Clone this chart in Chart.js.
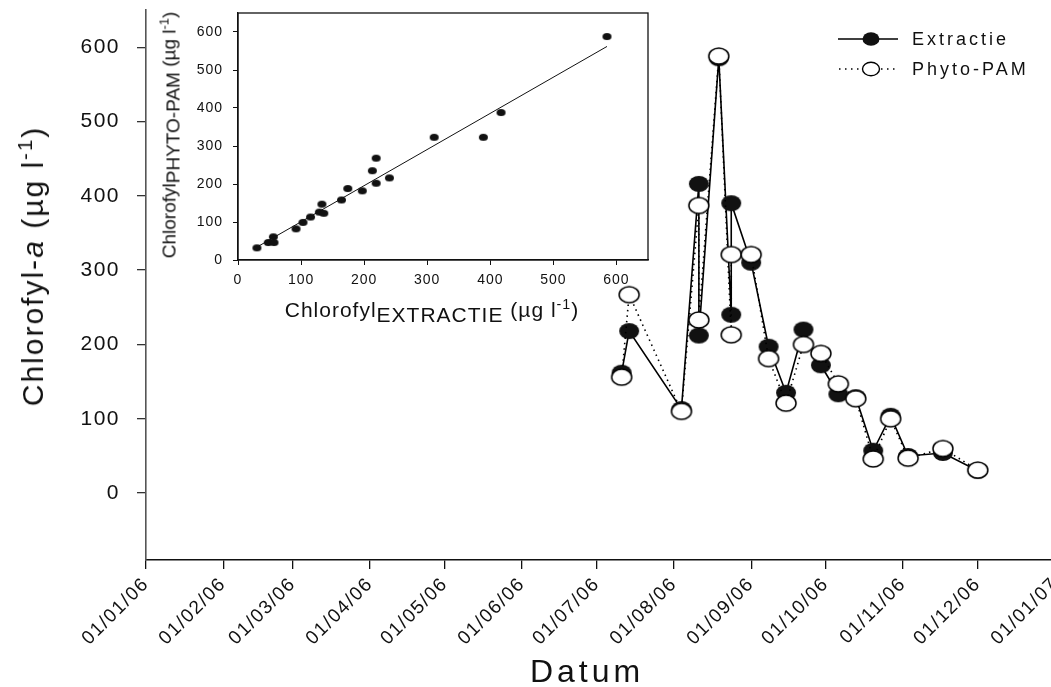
<!DOCTYPE html>
<html>
<head>
<meta charset="utf-8">
<script src="https://cdn.jsdelivr.net/npm/chart.js@4/dist/chart.umd.min.js"></script>
<style>
  body { margin: 0; width: 1051px; height: 687px; overflow: hidden; position: relative; background: #fff;
         font-family: "Liberation Sans", Arial, sans-serif; color: #111; }
  canvas { position: absolute; }
  .title { position: absolute; white-space: nowrap; line-height: 1; }
  .rot { transform: translate(-50%, -50%) rotate(-90deg); }
  .sup { font-size: 0.68em; position: relative; top: -0.55em; }
  .sub { position: relative; top: 0.22em; }
  #legend { position: absolute; left: 836px; top: 24px; font-size: 18px; letter-spacing: 3px; }
  #legend div { height: 30px; display: flex; align-items: center; }
  #legend svg { margin-right: 12px; }
</style>
</head>
<body>
<canvas id="mainChart" width="1080" height="687" style="left:0;top:0"></canvas>
<canvas id="insetChart" width="510" height="330" style="left:150px;top:0"></canvas>

<div class="title rot" style="left:33px;top:266px;font-size:30px;letter-spacing:2px">Chlorofyl-<i>a</i> (µg l<span class="sup">-1</span>)</div>
<div class="title" style="left:587px;top:655px;font-size:32px;letter-spacing:4px;transform:translateX(-50%)">Datum</div>
<div class="title rot" style="left:169px;top:135px;font-size:19px">Chlorofyl<span class="sub">PHYTO-PAM</span> (µg l<span class="sup">-1</span>)</div>
<div class="title" style="left:432px;top:299px;font-size:21px;letter-spacing:1px;transform:translateX(-50%)">Chlorofyl<span class="sub">EXTRACTIE</span> (µg l<span class="sup">-1</span>)</div>

<div id="legend">
  <div><svg width="64" height="20"><line x1="2" y1="10" x2="62" y2="10" stroke="#000" stroke-width="1.6"/><ellipse cx="35" cy="10" rx="8.5" ry="6.8" fill="#111"/></svg>Extractie</div>
  <div><svg width="64" height="20"><line x1="3" y1="10" x2="62" y2="10" stroke="#000" stroke-width="1.6" stroke-dasharray="1.5 4.5"/><ellipse cx="35" cy="10" rx="8.5" ry="6.8" fill="#fff" stroke="#000" stroke-width="1.4"/></svg>Phyto-PAM</div>
</div>

<script>
// main series
const sampleDates = ['2006-07-11', '2006-07-14', '2006-08-04', '2006-08-11', '2006-08-11', '2006-08-19',
  '2006-08-24', '2006-08-24', '2006-09-01', '2006-09-08', '2006-09-15', '2006-09-22', '2006-09-29',
  '2006-10-06', '2006-10-13', '2006-10-20', '2006-10-27', '2006-11-03', '2006-11-17', '2006-12-01'];
const extractie = [162, 218, 113, 416, 212, 585, 240, 390, 310, 197, 135, 220, 172, 133, 129, 57, 104, 50, 54, 30];
const phytoPam = [156, 267, 110, 387, 233, 588, 213, 321, 321, 181, 121, 200, 188, 147, 127, 46, 100, 47, 60, 31];

// x ticks: first day of every month
const tickDates = ['2006-01-01', '2006-02-01', '2006-03-01', '2006-04-01', '2006-05-01', '2006-06-01', '2006-07-01',
  '2006-08-01', '2006-09-01', '2006-10-01', '2006-11-01', '2006-12-01', '2007-01-01'];
const tickLabels = ['01/01/06', '01/02/06', '01/03/06', '01/04/06', '01/05/06', '01/06/06', '01/07/06',
  '01/08/06', '01/09/06', '01/10/06', '01/11/06', '01/12/06', '01/01/07'];
const yTicks = [0, 100, 200, 300, 400, 500, 600];

// inset: extractie vs phyto-pam
const insetX = [30, 48, 56, 57, 92, 103, 115, 129, 133, 136, 164, 174, 197, 213, 219, 219, 240, 311, 389, 417, 585];
const insetY = [32, 46, 61, 46, 82, 99, 113, 126, 147, 123, 158, 188, 182, 235, 268, 202, 216, 323, 323, 388, 588];
const fitX = [30, 585];
const fitY = [34, 562];
const insetTicks = [0, 100, 200, 300, 400, 500, 600];

function dayOfYear(iso) {
    return (Date.parse(iso) - Date.parse('2006-01-01')) / 86400000;
}

function marker(w, h, fill, stroke, lw) {
    const c = document.createElement('canvas');
    c.width = w + 4; c.height = h + 4;
    const g = c.getContext('2d');
    g.beginPath();
    g.ellipse(c.width / 2, c.height / 2, w / 2, h / 2, 0, 0, Math.PI * 2);
    g.fillStyle = fill; g.fill();
    if (stroke) { g.lineWidth = lw; g.strokeStyle = stroke; g.stroke(); }
    return c;
}

const spacing = {
    id: 'spacing',
    beforeDraw(chart, args, opts) { chart.ctx.letterSpacing = opts.value || '0px'; }
};
const frame = {
    id: 'frame',
    afterDraw(chart, args, opts) {
        if (!opts.show) return;
        const { ctx, chartArea: a } = chart;
        ctx.save();
        ctx.strokeStyle = '#111'; ctx.lineWidth = 1.3;
        ctx.strokeRect(a.left, a.top, a.right - a.left, a.bottom - a.top);
        ctx.restore();
    }
};
Chart.register(spacing, frame);

const fontFam = '"Liberation Sans", Arial, sans-serif';
const days = sampleDates.map(dayOfYear);
const tickDays = tickDates.map(dayOfYear);

function fixBox(w, h) {
    return function (s) {
        if (w != null) s.width = w;
        if (h != null) s.height = h;
        s.paddingLeft = s.paddingRight = s.paddingTop = s.paddingBottom = 0;
    };
}

new Chart(document.getElementById('mainChart'), {
    type: 'line',
    data: {
        datasets: [{
            label: 'Extractie',
            data: days.map((d, i) => ({ x: d, y: extractie[i] })),
            borderColor: '#000', borderWidth: 1.6,
            pointStyle: marker(20, 16, '#111'),
            order: 2
        }, {
            label: 'Phyto-PAM',
            data: days.map((d, i) => ({ x: d, y: phytoPam[i] })),
            borderColor: '#000', borderWidth: 1.6, borderDash: [1.5, 4],
            pointStyle: marker(20, 16, '#fff', '#000', 1.5),
            order: 1
        }]
    },
    options: {
        responsive: false, animation: false,
        layout: { padding: { top: 10, right: 25, left: 0, bottom: 0 } },
        plugins: { legend: { display: false }, tooltip: { enabled: false }, spacing: { value: '1.5px' } },
        scales: {
            x: {
                type: 'linear', min: tickDays[0], max: tickDays[tickDays.length - 1],
                afterBuildTicks: s => { s.ticks = tickDays.map(v => ({ value: v })); },
                afterFit: fixBox(null, 127),
                ticks: {
                    autoSkip: false, maxRotation: 45, minRotation: 45, padding: 4, color: '#111',
                    font: { family: fontFam, size: 19 },
                    callback: (v, i) => tickLabels[i]
                },
                grid: { drawOnChartArea: false, tickLength: 9, color: '#111', lineWidth: 1.3 },
                border: { color: '#111', width: 1.6 }
            },
            y: {
                min: -90, max: 650,
                afterBuildTicks: s => { s.ticks = yTicks.map(v => ({ value: v })); },
                afterFit: fixBox(146, null),
                ticks: { padding: 17, color: '#111', font: { family: fontFam, size: 21 } },
                grid: { drawOnChartArea: false, tickLength: 9, color: '#333', lineWidth: 1.3 },
                border: { color: '#555', width: 1.6 }
            }
        }
    }
});

new Chart(document.getElementById('insetChart'), {
    type: 'scatter',
    data: {
        datasets: [{
            data: insetX.map((x, i) => ({ x: x, y: insetY[i] })),
            pointStyle: marker(9, 7, '#111'),
            order: 1
        }, {
            type: 'line',
            data: fitX.map((x, i) => ({ x: x, y: fitY[i] })),
            borderColor: '#111', borderWidth: 1, pointRadius: 0,
            order: 2
        }]
    },
    options: {
        responsive: false, animation: false,
        layout: { padding: { top: 13, right: 12, left: 0, bottom: 0 } },
        plugins: { legend: { display: false }, tooltip: { enabled: false }, spacing: { value: '1px' }, frame: { show: true } },
        scales: {
            x: {
                type: 'linear', min: 0, max: 650,
                afterBuildTicks: s => { s.ticks = insetTicks.map(v => ({ value: v })); },
                afterFit: fixBox(null, 70),
                ticks: { padding: 7, maxRotation: 0, color: '#111', font: { family: fontFam, size: 14 } },
                grid: { drawOnChartArea: false, tickLength: 5, color: '#111' },
                border: { color: '#111', width: 1.3 }
            },
            y: {
                min: 0, max: 650,
                afterBuildTicks: s => { s.ticks = insetTicks.map(v => ({ value: v })); },
                afterFit: fixBox(88, null),
                ticks: { padding: 10, color: '#111', font: { family: fontFam, size: 14 } },
                grid: { drawOnChartArea: false, tickLength: 5, color: '#111' },
                border: { color: '#111', width: 1.3 }
            }
        }
    }
});
</script>
</body>
</html>
